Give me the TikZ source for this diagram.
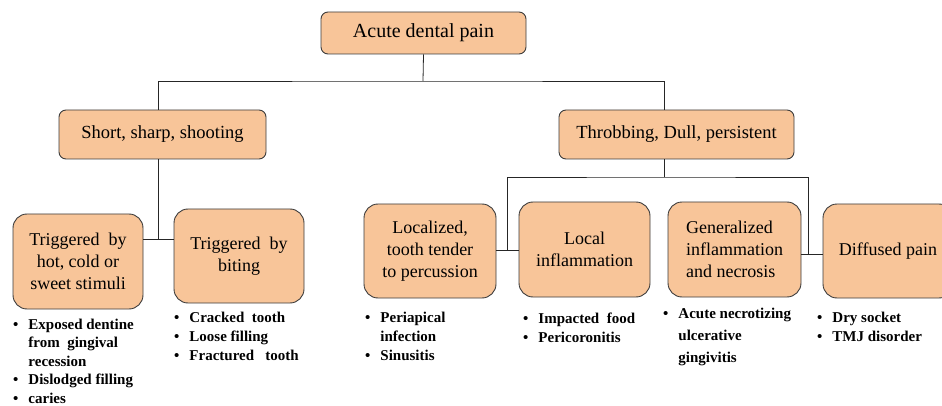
\documentclass[tikz,border=0pt]{standalone}
\usepackage{fontspec}
\setmainfont{Liberation Serif}
\definecolor{peach}{RGB}{248,197,153}
\definecolor{edge}{RGB}{60,60,60}

\begin{document}
\begin{tikzpicture}[x=1pt,y=-1pt,
  box/.style={draw=edge,fill=peach,line width=0.9pt,rounded corners=7pt,inner sep=0pt,align=center},
  topbox/.style={box,font=\fontsize{18.5}{22}\selectfont,minimum height=49pt},
  lowbox/.style={box,rounded corners=14pt,font=\fontsize{18}{22}\selectfont,minimum height=95pt},
  link/.style={draw=black!85,line width=0.8pt},
  list/.style={anchor=base west,inner sep=0pt,font=\fontsize{15}{19}\selectfont\bfseries}]
\useasboundingbox (0,0) rectangle (942,406);
\clip (0,0) rectangle (942,406);

\node[topbox,minimum width=205pt,minimum height=42pt,font=\fontsize{20}{24}\selectfont] (pain) at (423.5,33) {Acute dental pain};
\node[topbox,minimum width=207pt] (sharp) at (162.5,134.5) {Short, sharp, shooting};
\node[topbox,minimum width=235pt] (dull) at (676.5,134.5) {Throbbing, Dull,~persistent};

\node[lowbox,minimum width=130pt] (hot) at (78,261.5) {Triggered~~by\\hot, cold or\\sweet stimuli};
\node[lowbox,minimum width=130pt,minimum height=94pt] (bite) at (239,256) {Triggered~~by\\biting};
\node[lowbox,minimum width=132pt,minimum height=94pt] (tender) at (430,251) {Localized,\\tooth tender\\to percussion};
\node[lowbox,minimum width=131pt] (local) at (584.5,249.5) {Local\\inflammation};
\node[lowbox,minimum width=133pt,align=left] (necro) at (734.5,249.5) {Generalized\\inflammation\\and necrosis};
\node[lowbox,minimum width=130pt,minimum height=94pt] (diffuse) at (888,251) {Diffused pain};

\node[list,font=\fontsize{15}{18.5}\selectfont\bfseries] (hotlist) at (13,329) {\begin{tabular}[t]{@{}l@{\hspace{10pt}}l@{}}
\textbullet & Exposed dentine\\ & from~~gingival\\ & recession\\
\textbullet & Dislodged filling\\ \textbullet & caries\end{tabular}};
\node[list] (bitelist) at (174,322) {\begin{tabular}[t]{@{}l@{\hspace{10pt}}l@{}}
\textbullet & Cracked~~tooth\\ \textbullet & Loose filling\\ \textbullet & Fractured~~~tooth\end{tabular}};
\node[list] (tenderlist) at (365,322) {\begin{tabular}[t]{@{}l@{\hspace{10pt}}l@{}}
\textbullet & Periapical\\ & infection\\ \textbullet & Sinusitis\end{tabular}};
\node[list] (locallist) at (523,323) {\begin{tabular}[t]{@{}l@{\hspace{10pt}}l@{}}
\textbullet & Impacted~~food\\ \textbullet & Pericoronitis\end{tabular}};
\node[list,font=\fontsize{15}{22}\selectfont\bfseries] (necrolist) at (663,318) {\begin{tabular}[t]{@{}l@{\hspace{10pt}}l@{}}
\textbullet & Acute necrotizing\\ & ulcerative\\ & gingivitis\end{tabular}};
\node[list] (diffuselist) at (817,322) {\begin{tabular}[t]{@{}l@{\hspace{10pt}}l@{}}
\textbullet & Dry socket\\ \textbullet & TMJ disorder\end{tabular}};

\coordinate (busTop) at (423,81);
\coordinate (busDull) at (664,177);
\coordinate (jHot) at (158,239);
\coordinate (jTender) at (507,250);
\coordinate (jNecro) at (808,254);

\draw[link] (pain.south) -- (busTop);
\draw[link] ([xshift=-4.5pt]sharp.north) |- (busTop) -| ([xshift=-12.5pt]dull.north);
\draw[link] ([xshift=-4.5pt]sharp.south) -- (jHot);
\draw[link] (hot.east |- jHot) -- (bite.west |- jHot);
\draw[link] ([xshift=-12.5pt]dull.south) -- (busDull);
\draw[link] (jTender) |- (busDull) -| (jNecro);
\draw[link] (tender.east |- jTender) -- (local.west |- jTender);
\draw[link] (necro.east |- jNecro) -- (diffuse.west |- jNecro);
\end{tikzpicture}
\end{document}
